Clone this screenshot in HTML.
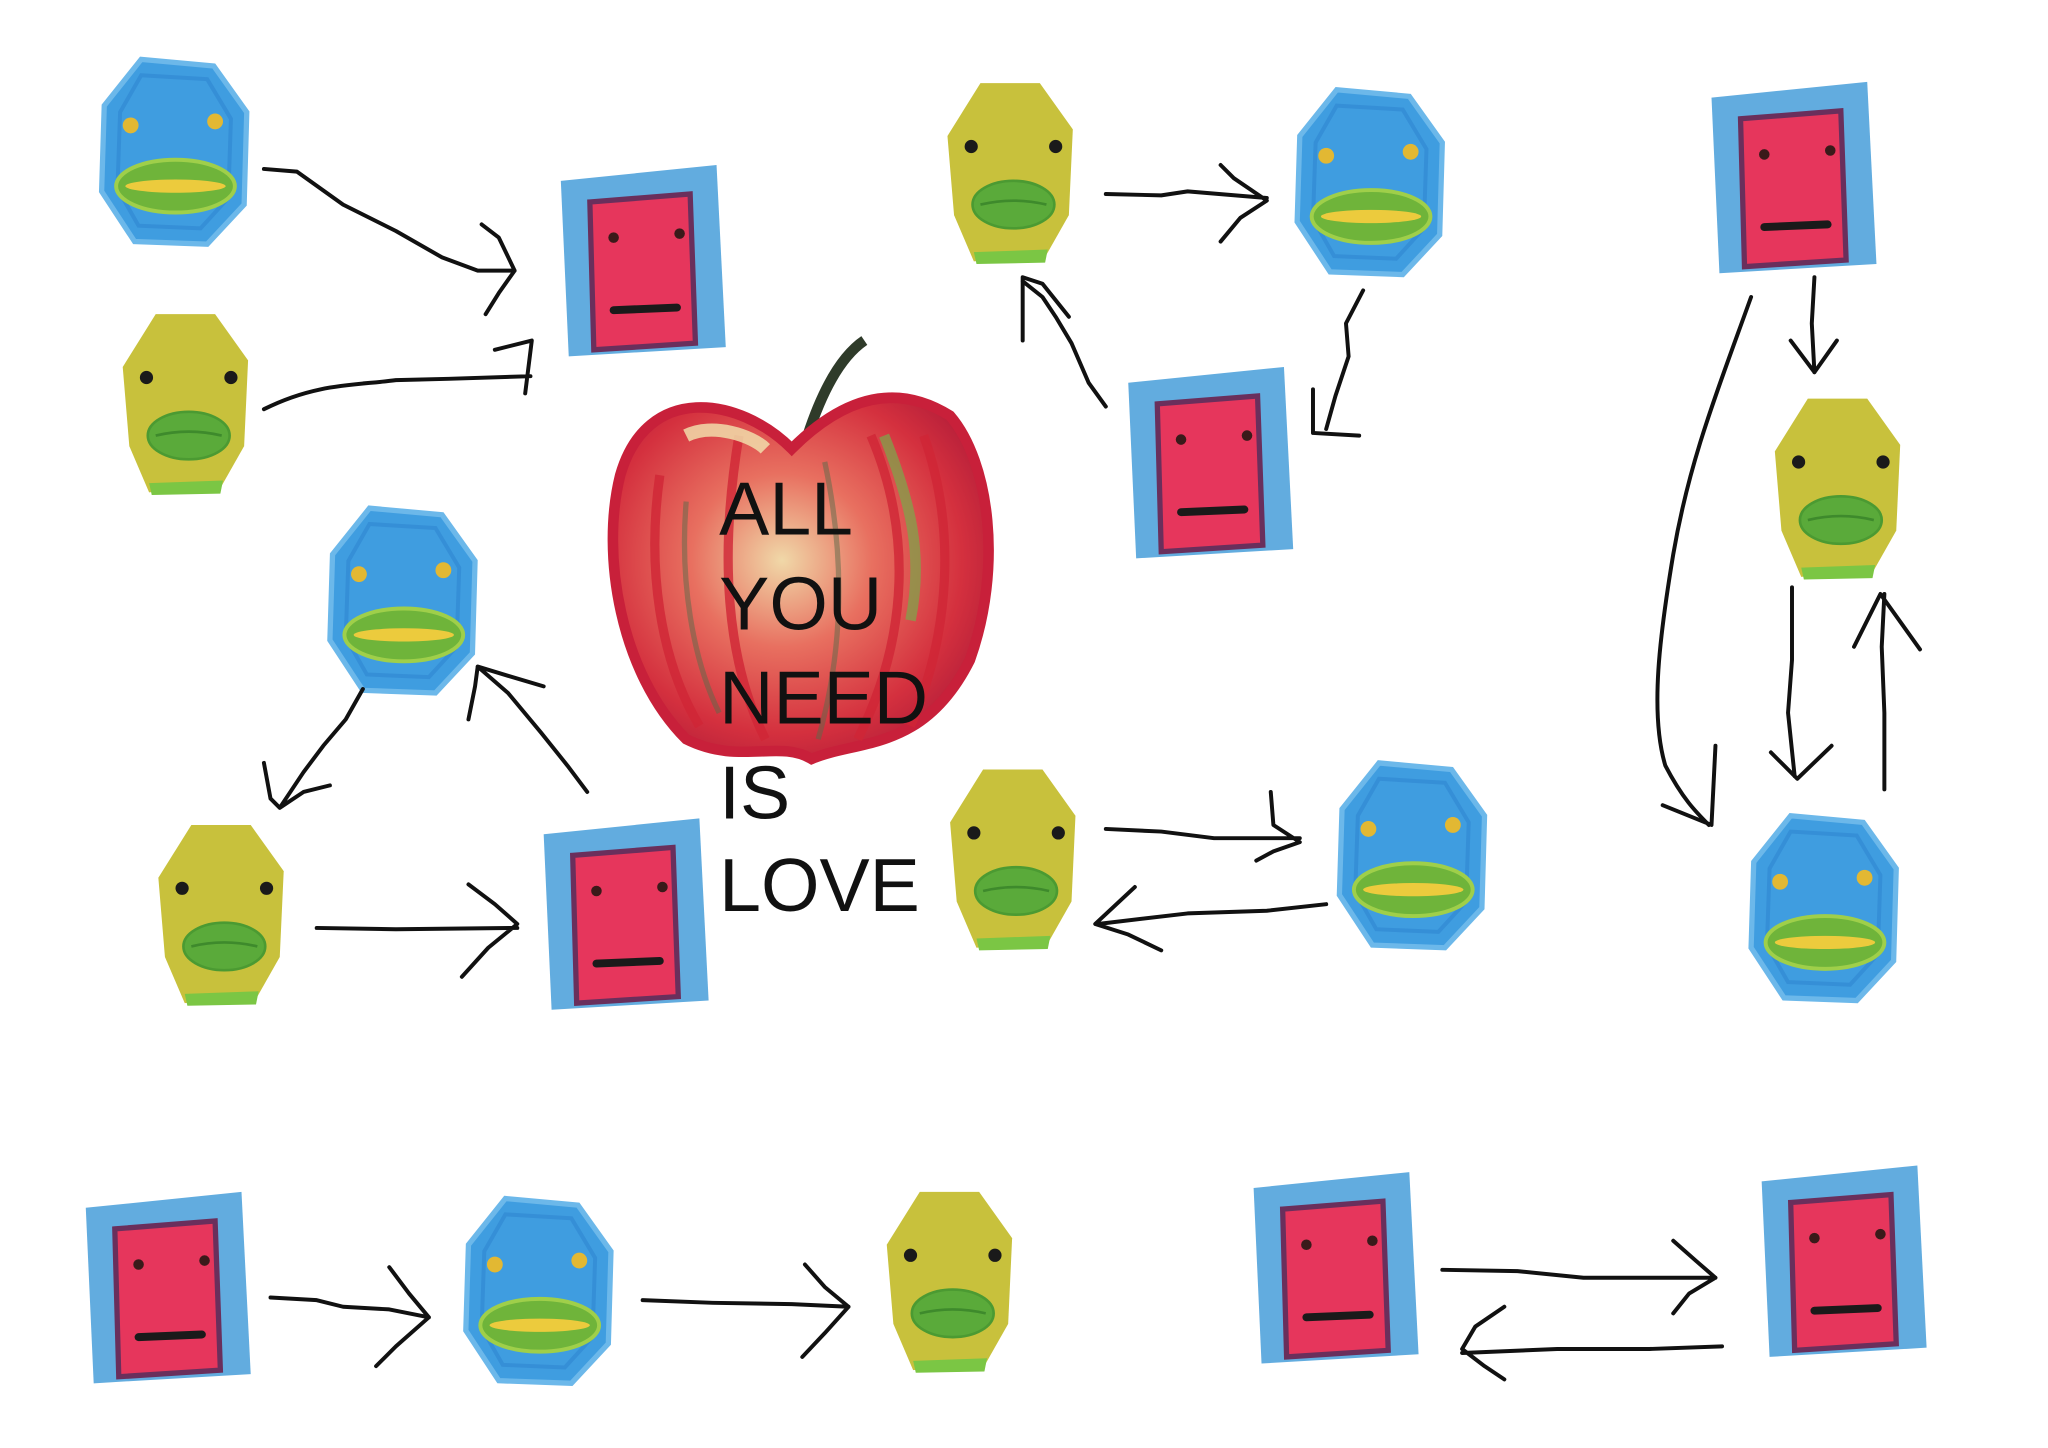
<!DOCTYPE html>
<html><head><meta charset="utf-8"><style>html,body{margin:0;padding:0;background:#fff}svg{display:block}</style></head><body>
<svg width="2048" height="1448" viewBox="0 0 1552 1097" preserveAspectRatio="none" xmlns="http://www.w3.org/2000/svg">
<defs>
<g id="blue">
<polygon points="30,0 85,5 110,40 108,110 80,140 25,138 0,100 2,35" fill="#3f9de0" stroke="#6cb8ea" stroke-width="4"/>
<polygon points="30,12 80,15 98,45 96,105 75,128 28,126 12,98 14,40" fill="none" stroke="#2e86d0" stroke-width="3" opacity="0.6"/>
<circle cx="22" cy="50" r="6" fill="#e2b833"/><circle cx="86" cy="47" r="6" fill="#e2b833"/>
<ellipse cx="56" cy="96" rx="45" ry="20" fill="#6fb43a" stroke="#9fcf4a" stroke-width="3"/>
<ellipse cx="56" cy="96" rx="38" ry="5" fill="#eccb3d"/>
</g>
<g id="yellow">
<polygon points="25,0 70,0 95,35 92,100 75,130 20,135 5,100 0,40" fill="#c8c13c"/>
<path d="M20,128 L76,126 L74,136 L22,137 Z" fill="#7bc644"/>
<circle cx="18" cy="48" r="5" fill="#1a1a1a"/><circle cx="82" cy="48" r="5" fill="#1a1a1a"/>
<ellipse cx="50" cy="92" rx="31" ry="18" fill="#5aaa3a" stroke="#4b9a32" stroke-width="2"/>
<path d="M25,92 Q50,86 75,92" stroke="#3e8a2c" stroke-width="2" fill="none"/>
</g>
<g id="red">
<polygon points="0,12 118,0 125,138 6,145" fill="#62acdf"/>
<polygon points="22,28 98,22 102,135 25,140" fill="#e6365c" stroke="#6a2f5c" stroke-width="4"/>
<circle cx="40" cy="55" r="4" fill="#3a1a1a"/><circle cx="90" cy="52" r="4" fill="#3a1a1a"/>
<path d="M40,110 L88,108" stroke="#1a1a1a" stroke-width="6" stroke-linecap="round"/>
</g>
<radialGradient id="ap" cx="0.45" cy="0.45" r="0.6"><stop offset="0" stop-color="#f0d8a8"/><stop offset="0.4" stop-color="#e87060"/><stop offset="0.8" stop-color="#d4303e"/><stop offset="1" stop-color="#b8203a"/></radialGradient>
</defs>
<use href="#blue" x="77" y="45"/><use href="#blue" x="250" y="385"/><use href="#blue" x="983" y="68"/>
<use href="#blue" x="1015" y="578"/><use href="#blue" x="1327" y="618"/><use href="#blue" x="353" y="908"/>
<use href="#yellow" x="93" y="238"/><use href="#yellow" x="718" y="63"/><use href="#yellow" x="120" y="625"/>
<use href="#yellow" x="720" y="583"/><use href="#yellow" x="1345" y="302"/><use href="#yellow" x="672" y="903"/>
<use href="#red" x="425" y="125"/><use href="#red" x="855" y="278"/><use href="#red" x="1297" y="62"/>
<use href="#red" x="412" y="620"/><use href="#red" x="65" y="903"/><use href="#red" x="950" y="888"/><use href="#red" x="1335" y="883"/>
<!-- apple -->
<path d="M655,258 Q630,275 612,330" stroke="#2f3b2a" stroke-width="8" fill="none"/>
<path d="M600,340 C560,300 490,290 470,360 C455,420 470,510 520,560 C560,580 590,560 615,575 C650,560 700,570 735,500 C760,430 750,350 720,315 C680,290 640,300 600,340 Z" fill="url(#ap)" stroke="#c8203a" stroke-width="8"/>
<path d="M500,360 C490,430 500,500 530,550 M560,330 C545,420 550,500 580,560 M660,330 C690,400 690,480 650,560 M700,330 C725,400 720,480 690,550" stroke="#d02636" stroke-width="7" fill="none" opacity="0.8"/>
<path d="M520,380 C515,440 525,500 545,540 M625,350 C640,420 640,490 620,560" stroke="#5a6a4a" stroke-width="4" fill="none" opacity="0.5"/>
<path d="M670,330 C690,380 700,420 690,470" stroke="#7aa84a" stroke-width="8" fill="none" opacity="0.7"/>
<path d="M520,330 C540,320 570,330 580,340" stroke="#f3e6b0" stroke-width="10" fill="none" opacity="0.8"/>
<g font-family="Liberation Sans, sans-serif" font-size="57" fill="#111">
<text x="545" y="405">ALL</text><text x="545" y="477">YOU</text><text x="545" y="548">NEED</text><text x="545" y="620">IS</text><text x="545" y="690">LOVE</text>
</g>
<g stroke="#111" stroke-width="3" fill="none" stroke-linejoin="round" stroke-linecap="round">
<path d="M200,128 L225,130 L260,155 L300,175 L335,195 L362,205 L390,205 M365,170 L378,180 L390,205 L378,222 L368,238"/>
<path d="M200,310 C240,290 270,292 300,288 L340,287 L402,285 M375,265 L403,258 L398,298"/>
<path d="M838,147 L880,148 L900,145 L960,150 M925,125 L935,135 L960,152 L940,165 L925,183"/>
<path d="M1033,220 L1020,245 L1022,270 L1012,300 L1005,325 M995,295 L995,328 L1030,330"/>
<path d="M838,308 L825,290 L812,260 L800,240 L790,225 L775,213 M775,258 L775,210 L790,215 L810,240"/>
<path d="M1327,225 C1300,300 1280,350 1268,420 C1258,480 1250,540 1262,580 C1275,605 1285,615 1295,625 M1260,610 L1297,625 L1300,565"/>
<path d="M1375,210 L1373,245 L1375,282 M1357,258 L1375,282 L1392,258"/>
<path d="M1358,445 L1358,500 L1355,540 L1360,588 M1342,570 L1362,590 L1388,565"/>
<path d="M1428,598 L1428,540 L1426,490 L1428,450 M1405,490 L1425,450 L1455,492"/>
<path d="M275,522 L262,545 L245,565 L230,585 L212,612 M200,578 L205,605 L212,612 L230,600 L250,595"/>
<path d="M445,600 L430,580 L410,555 L385,525 L362,505 M355,545 L360,520 L362,505 L385,512 L412,520"/>
<path d="M240,703 L300,704 L392,703 M355,670 L375,685 L392,700 L370,718 L350,740"/>
<path d="M838,628 L880,630 L920,635 L985,635 M963,600 L965,625 L985,638 L965,645 L952,652"/>
<path d="M1005,685 L960,690 L900,692 L832,700 M860,672 L830,700 L855,708 L880,720"/>
<path d="M205,983 L240,985 L260,990 L295,992 L325,998 M295,960 L310,980 L325,998 L300,1020 L285,1035"/>
<path d="M487,985 L540,987 L600,988 L643,990 M610,958 L625,975 L643,990 L625,1010 L608,1028"/>
<path d="M1093,962 L1150,963 L1200,968 L1300,968 M1268,940 L1285,955 L1300,968 L1280,980 L1268,995"/>
<path d="M1305,1020 L1250,1022 L1180,1022 L1108,1025 M1140,990 L1118,1005 L1108,1022 L1125,1035 L1140,1045"/>
</g>
</svg>
</body></html>
